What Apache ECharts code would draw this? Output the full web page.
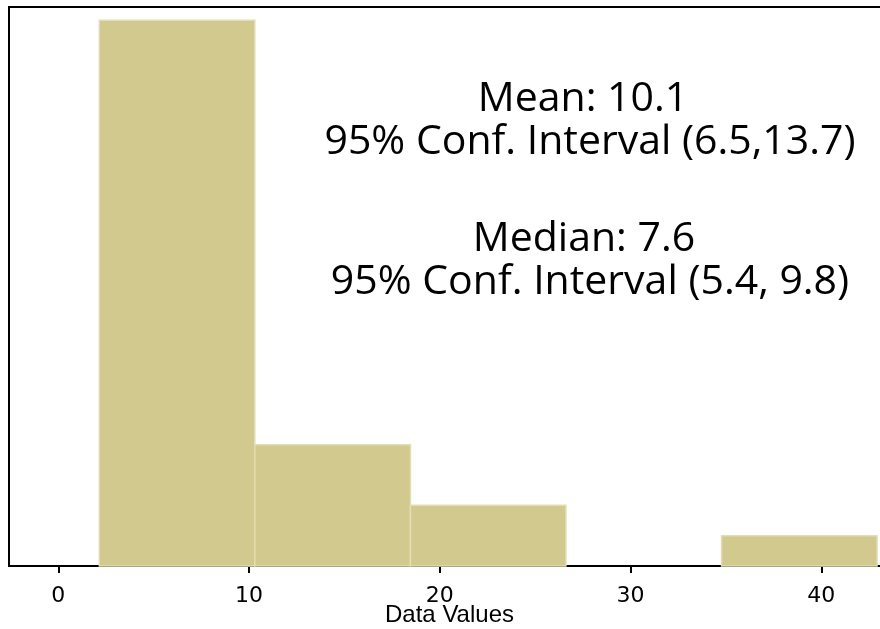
<!DOCTYPE html>
<html>
<head>
<meta charset="utf-8">
<script src="https://cdn.jsdelivr.net/npm/echarts@6/dist/echarts.min.js"></script>
<style>
  html, body { margin: 0; padding: 0; background: #fff; }
  #chart { width: 880px; height: 629px; }
</style>
</head>
<body>
<div id="chart"></div>
<script>
// Histogram bins: lower/upper edges and observation counts
const binLower = [2.15, 10.30, 18.46, 26.61, 34.77];
const binUpper = [10.30, 18.46, 26.61, 34.77, 42.92];
const binCounts = [18, 4, 2, 0, 1];

// X-axis tick labels
const xTicks = [0, 10, 20, 30, 40];

// Summary statistics shown in the annotation
const meanText = ['Mean: 10.1', '95% Conf. Interval (6.5,13.7)'];
const medianText = ['Median: 7.6', '95% Conf. Interval (5.4, 9.8)'];

const chart = echarts.init(document.getElementById('chart'), null, { renderer: 'canvas' });

const binData = binLower.map((lo, i) => [lo, binUpper[i], binCounts[i]]);

const annFont = '"Open Sans", Lato, sans-serif';
const annStyle = { fontFamily: annFont, fontSize: 41, fill: '#000', textAlign: 'center', textVerticalAlign: 'middle' };

chart.setOption({
  animation: false,
  backgroundColor: '#fff',
  grid: {
    left: 9, top: 7, right: -10, bottom: 63,
    outerBoundsMode: 'none',
    containLabel: false,
    show: true, borderColor: '#000', borderWidth: 2, backgroundColor: '#fff'
  },
  xAxis: {
    type: 'value',
    min: -2.585,
    max: 43.6,
    name: 'Data Values',
    nameLocation: 'middle',
    nameGap: 37,
    nameMoveOverlap: false,
    nameTextStyle: { fontFamily: '"Liberation Sans", Arial, sans-serif', fontSize: 24, color: '#000' },
    axisLine: { show: true, lineStyle: { color: '#000', width: 2 } },
    axisTick: { show: true, customValues: xTicks, length: 7, lineStyle: { color: '#000', width: 2 } },
    axisLabel: { customValues: xTicks, fontFamily: '"DejaVu Sans", Verdana, sans-serif', fontSize: 22, color: '#000', margin: 19 },
    splitLine: { show: false }
  },
  yAxis: {
    type: 'value',
    min: 0,
    max: 18.44,
    show: false,
    splitLine: { show: false }
  },
  series: [{
    type: 'custom',
    data: binData,
    encode: { x: [0, 1], y: 2 },
    renderItem: function (params, api) {
      const lo = api.value(0), hi = api.value(1), n = api.value(2);
      if (!n) return null;
      const p0 = api.coord([lo, 0]);
      const p1 = api.coord([hi, n]);
      return {
        type: 'rect',
        shape: { x: p0[0], y: p1[1], width: p1[0] - p0[0], height: p0[1] - p1[1] },
        style: { fill: '#d1c98e', stroke: '#e2ddb2', lineWidth: 1.5 }
      };
    }
  }],
  graphic: [
    { type: 'text', x: 583, y: 99, style: Object.assign({ text: meanText[0] }, annStyle) },
    { type: 'text', x: 590, y: 142, style: Object.assign({ text: meanText[1] }, annStyle) },
    { type: 'text', x: 584, y: 239, style: Object.assign({ text: medianText[0] }, annStyle) },
    { type: 'text', x: 590, y: 282, style: Object.assign({ text: medianText[1] }, annStyle) }
  ]
});
</script>
</body>
</html>
